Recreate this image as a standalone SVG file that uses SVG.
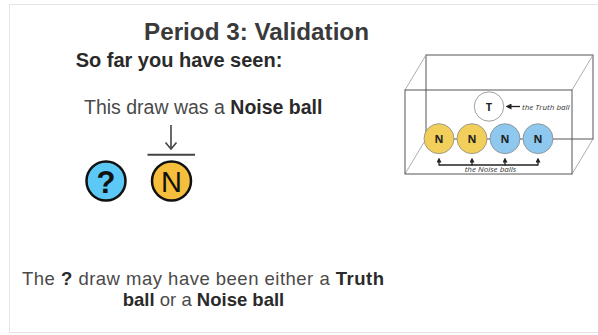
<svg xmlns="http://www.w3.org/2000/svg" width="598" height="335" viewBox="0 0 598 335">
<defs>
<style>
.sans{font-family:"Liberation Sans",Arial,sans-serif}
.lite{fill:#4a4a4a}
.bold{font-weight:bold;fill:#2a2a2a}
.edge{stroke:#555;stroke-width:1;fill:none}
.diag{stroke:#999;stroke-width:0.8;fill:none}
.ball{stroke:#888;stroke-width:0.8}
.yel{fill:#f2cf5b}
.blu{fill:#8ec8ee}
.blab{font-family:"Open Sans","DejaVu Sans",sans-serif;font-weight:bold;font-size:11px;fill:#222;text-anchor:middle}
.note{font-family:"Open Sans","DejaVu Sans",sans-serif;font-style:italic;font-size:8px;fill:#333}
.conn{stroke:#222;stroke-width:1.3;fill:none}
</style>
<marker id="ah" viewBox="0 0 6 6" markerWidth="6" markerHeight="6" markerUnits="userSpaceOnUse" refX="2" refY="3" orient="auto">
<path d="M0,0 L6,3 L0,6 z" fill="#222"/>
</marker>
<marker id="ahs" viewBox="0 0 5 5" markerWidth="5" markerHeight="5" markerUnits="userSpaceOnUse" refX="1.5" refY="2.5" orient="auto">
<path d="M0,0 L5,2.5 L0,5 z" fill="#222"/>
</marker>
</defs>
<rect x="0" y="0" width="598" height="335" fill="#fff"/>
<rect id="frame" x="9.5" y="4.5" width="600" height="328" fill="none" stroke="#e4e4e4" stroke-width="1"/>

<g id="title">
<text class="sans" x="256.5" y="40" font-size="24.5" font-weight="bold" text-anchor="middle" fill="#3a3a3a" textLength="225" lengthAdjust="spacingAndGlyphs">Period 3: Validation</text>
</g>
<g id="subtitle">
<text class="sans bold" x="179" y="67" font-size="20" text-anchor="middle">So far you have seen:</text>
</g>
<g id="caption">
<text class="sans" font-size="19.5" x="84" y="114"><tspan class="lite">This draw was a </tspan><tspan class="bold">Noise ball</tspan></text>
</g>

<g id="draw-arrow">
<line x1="171" y1="125" x2="171" y2="148.5" stroke="#444" stroke-width="1.6"/>
<path d="M165.5,142.5 L171,149 L176.5,142.5" fill="none" stroke="#444" stroke-width="1.6"/>
<line x1="147.5" y1="154.8" x2="195" y2="154.8" stroke="#444" stroke-width="2"/>
</g>

<g id="ball-question">
<circle cx="106" cy="181" r="19.5" fill="#5bc8f5" stroke="#111" stroke-width="2.5"/>
<text class="sans" x="106" y="192.5" font-size="31" font-weight="bold" text-anchor="middle" fill="#111">?</text>
</g>
<g id="ball-noise-drawn">
<circle cx="171.5" cy="181" r="19.5" fill="#f5be3c" stroke="#111" stroke-width="2.5"/>
<text class="sans" x="171.5" y="191.5" font-size="29" text-anchor="middle" fill="#111">N</text>
</g>

<g id="bottom-text">
<text class="sans" font-size="18.5" text-anchor="middle" x="203" y="285" textLength="362" lengthAdjust="spacing"><tspan class="lite">The </tspan><tspan class="bold">?</tspan><tspan class="lite"> draw may have been either a </tspan><tspan class="bold">Truth</tspan></text>
<text class="sans" font-size="18.5" text-anchor="middle" x="203.5" y="305.5"><tspan class="bold">ball</tspan><tspan class="lite"> or a </tspan><tspan class="bold">Noise ball</tspan></text>
</g>

<g id="box">
<rect class="edge" x="426" y="55" width="167" height="84"/>
<line class="diag" x1="405" y1="90" x2="426" y2="55"/>
<line class="diag" x1="572" y1="90" x2="593" y2="55"/>
<line class="diag" x1="405" y1="174" x2="426" y2="139"/>
<line class="diag" x1="572" y1="174" x2="593" y2="139"/>
<rect class="edge" x="405" y="90" width="167" height="84"/>
</g>

<g id="ball-T">
<circle class="ball" cx="489" cy="106.5" r="14.7" fill="#fff"/>
<text class="blab" x="489" y="110.5">T</text>
</g>
<g id="ball-N1">
<circle class="ball yel" cx="439" cy="138.7" r="15"/>
<text class="blab" x="439" y="142.7">N</text>
</g>
<g id="ball-N2">
<circle class="ball yel" cx="472" cy="138.7" r="15"/>
<text class="blab" x="472" y="142.7">N</text>
</g>
<g id="ball-N3">
<circle class="ball blu" cx="505" cy="138.7" r="15"/>
<text class="blab" x="505" y="142.7">N</text>
</g>
<g id="ball-N4">
<circle class="ball blu" cx="538" cy="138.7" r="15"/>
<text class="blab" x="538" y="142.7">N</text>
</g>

<g id="connectors">
<line class="conn" x1="520" y1="106.5" x2="509.5" y2="106.5" marker-end="url(#ah)"/>
<path class="conn" d="M439,165 L538,165"/>
<line class="conn" x1="439" y1="165.5" x2="439" y2="161" marker-end="url(#ahs)"/>
<line class="conn" x1="472" y1="165.5" x2="472" y2="161" marker-end="url(#ahs)"/>
<line class="conn" x1="505" y1="165.5" x2="505" y2="161" marker-end="url(#ahs)"/>
<line class="conn" x1="538" y1="165.5" x2="538" y2="161" marker-end="url(#ahs)"/>
</g>

<g id="labels">
<text class="note" x="522" y="109.5">the Truth ball</text>
<text class="note" x="490.5" y="172" text-anchor="middle">the Noise balls</text>
</g>
</svg>
